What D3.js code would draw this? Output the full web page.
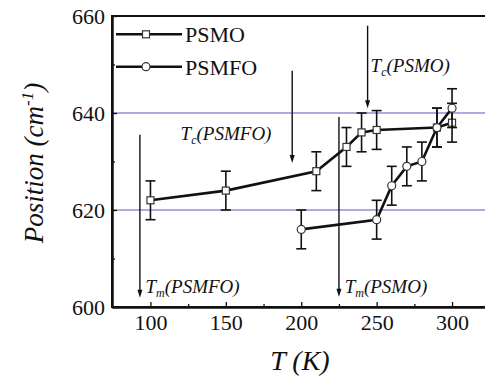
<!DOCTYPE html>
<html lang="en">
<head>
<meta charset="UTF-8">
<title>Position vs T</title>
<script src="https://d3js.org/d3.v7.min.js"></script>
<style>
  body { margin: 0; padding: 0; background: #fff; }
  svg text { font-family: "Liberation Serif", "Times New Roman", serif; fill: #111; }
</style>
</head>
<body>
<div id="chart"></div>
<script>
// data
const tempPSMO = [100, 150, 210, 230, 240, 250, 290, 300];
const posPSMO = [622, 624, 628, 633, 636, 636.5, 637, 638];
const errPSMO = [4, 4, 4, 4, 4, 4, 4, 4];

const tempPSMFO = [200, 250, 260, 270, 280, 290, 300];
const posPSMFO = [616, 618, 625, 629, 630, 637, 641];
const errPSMFO = [4, 4, 4, 4, 4, 4, 4];

const xTicks = [100, 150, 200, 250, 300];
const xMinor = [125, 175, 225, 275];
const yTicks = [600, 620, 640, 660];
const yMinor = [610, 630, 650];
const refLines = [620, 640];

// arrows: sub, name, T of arrow, start / end position, label T & position
const arrowSub = ["c", "c", "m", "m"];
const arrowName = ["(PSMO)", "(PSMFO)", "(PSMFO)", "(PSMO)"];
const arrowT = [244, 194, 93, 225];
const arrowFrom = [658, 648.7, 635.5, 639.2];
const arrowTo = [641, 629.7, 601.9, 602.1];
const labelT = [246, 120, 96.7, 228.8];
const labelPos = [648.5, 634.4, 602.9, 602.9];

const W = 485, H = 380;
const svg = d3.select("#chart").append("svg")
    .attr("width", W).attr("height", H)
    .attr("font-family", "'Liberation Serif', serif");

// the plot's right edge falls outside the picture
const x = d3.scaleLinear().domain([74.5, 332]).range([112, 500.3]);
const y = d3.scaleLinear().domain([600, 660]).range([307, 16]);

// reference lines
svg.selectAll(".ref").data(refLines).join("line")
    .attr("x1", x.range()[0]).attr("x2", x.range()[1])
    .attr("y1", d => y(d)).attr("y2", d => y(d))
    .attr("stroke", "#8f8fd6").attr("stroke-width", 1.5);

// frame
svg.append("rect")
    .attr("x", x.range()[0]).attr("y", y.range()[1])
    .attr("width", x.range()[1] - x.range()[0])
    .attr("height", y.range()[0] - y.range()[1])
    .attr("fill", "none").attr("stroke", "#111").attr("stroke-width", 2);

// axes
svg.append("g").attr("transform", `translate(0,${y.range()[0]})`)
    .call(d3.axisBottom(x).tickValues(xTicks).tickSize(-5).tickSizeOuter(0).tickPadding(7));
svg.append("g").attr("transform", `translate(0,${y.range()[0]})`)
    .call(d3.axisBottom(x).tickValues(xMinor).tickSize(-3).tickSizeOuter(0).tickFormat(""));
svg.append("g").attr("transform", `translate(${x.range()[0]},0)`)
    .call(d3.axisLeft(y).tickValues(yTicks).tickSize(-5).tickSizeOuter(0).tickPadding(7));
svg.append("g").attr("transform", `translate(${x.range()[0]},0)`)
    .call(d3.axisLeft(y).tickValues(yMinor).tickSize(-3).tickSizeOuter(0).tickFormat(""));

svg.selectAll("g").attr("font-family", null).attr("font-size", null);
svg.selectAll(".domain").attr("stroke", "#111").attr("stroke-width", 2);
svg.selectAll(".tick line").attr("stroke", "#111").attr("stroke-width", 1.3);
svg.selectAll(".tick text")
    .style("font-size", "22px").attr("fill", "#222");

// axis titles
svg.append("text")
    .attr("x", 300).attr("y", 370)
    .attr("text-anchor", "middle")
    .style("font-size", "28px").style("font-style", "italic")
    .text("T (K)");

const yt = svg.append("text")
    .attr("transform", "translate(43,163) rotate(-90)")
    .attr("text-anchor", "middle")
    .style("font-size", "27px").style("font-style", "italic");
yt.append("tspan").text("Position (cm");
yt.append("tspan").attr("dy", -10).style("font-size", "17px").text("-1");
yt.append("tspan").attr("dy", 10).text(")");

// series
const series = [
  { t: tempPSMO, p: posPSMO, e: errPSMO, shape: "square" },
  { t: tempPSMFO, p: posPSMFO, e: errPSMFO, shape: "circle" }
];

const line = d3.line().x(d => x(d[0])).y(d => y(d[1]));

series.forEach(s => {
  const pts = s.t.map((t, i) => [t, s.p[i], s.e[i]]);
  const g = svg.append("g");
  g.append("path").datum(pts).attr("d", line)
      .attr("fill", "none").attr("stroke", "#111").attr("stroke-width", 2.6);
  // error bars
  const eb = g.selectAll(".eb").data(pts).join("g");
  eb.append("line")
      .attr("x1", d => x(d[0])).attr("x2", d => x(d[0]))
      .attr("y1", d => y(d[1] + d[2])).attr("y2", d => y(d[1] - d[2]))
      .attr("stroke", "#111").attr("stroke-width", 1.6);
  [1, -1].forEach(sg => {
    eb.append("line")
        .attr("x1", d => x(d[0]) - 5).attr("x2", d => x(d[0]) + 5)
        .attr("y1", d => y(d[1] + sg * d[2])).attr("y2", d => y(d[1] + sg * d[2]))
        .attr("stroke", "#111").attr("stroke-width", 1.6);
  });
  if (s.shape === "square") {
    g.selectAll("rect").data(pts).join("rect")
        .attr("x", d => x(d[0]) - 3.5).attr("y", d => y(d[1]) - 3.5)
        .attr("width", 7).attr("height", 7)
        .attr("fill", "#fff").attr("stroke", "#333").attr("stroke-width", 1.2);
  } else {
    g.selectAll("circle").data(pts).join("circle")
        .attr("cx", d => x(d[0])).attr("cy", d => y(d[1])).attr("r", 4)
        .attr("fill", "#fff").attr("stroke", "#333").attr("stroke-width", 1.2);
  }
});

// arrows
arrowT.forEach((t, i) => {
  svg.append("line")
      .attr("x1", x(t)).attr("x2", x(t))
      .attr("y1", y(arrowFrom[i])).attr("y2", y(arrowTo[i]) - 6)
      .attr("stroke", "#111").attr("stroke-width", 1.4);
  svg.append("path")
      .attr("d", `M${x(t) - 2.5},${y(arrowTo[i]) - 8} L${x(t) + 2.5},${y(arrowTo[i]) - 8} L${x(t)},${y(arrowTo[i])} Z`)
      .attr("fill", "#111");
  const lt = svg.append("text")
      .attr("x", x(labelT[i])).attr("y", y(labelPos[i]))
      .style("font-size", "19px").style("font-style", "italic");
  lt.append("tspan").text("T");
  lt.append("tspan").attr("dy", 4).style("font-size", "12px").text(arrowSub[i]);
  lt.append("tspan").attr("dy", -4).text(arrowName[i]);
});

// legend
const legend = [
  { name: "PSMO", shape: "square", y: 34.3 },
  { name: "PSMFO", shape: "circle", y: 66.7 }
];
legend.forEach(l => {
  svg.append("line").attr("x1", 116).attr("x2", 182)
      .attr("y1", l.y).attr("y2", l.y)
      .attr("stroke", "#111").attr("stroke-width", 2.6);
  if (l.shape === "square") {
    svg.append("rect").attr("x", 146 - 3.5).attr("y", l.y - 3.5)
        .attr("width", 7).attr("height", 7)
        .attr("fill", "#fff").attr("stroke", "#333").attr("stroke-width", 1.2);
  } else {
    svg.append("circle").attr("cx", 146).attr("cy", l.y).attr("r", 4)
        .attr("fill", "#fff").attr("stroke", "#333").attr("stroke-width", 1.2);
  }
  svg.append("text").attr("x", 185).attr("y", l.y + 8)
      .style("font-size", "22px").text(l.name);
});
</script>
</body>
</html>
